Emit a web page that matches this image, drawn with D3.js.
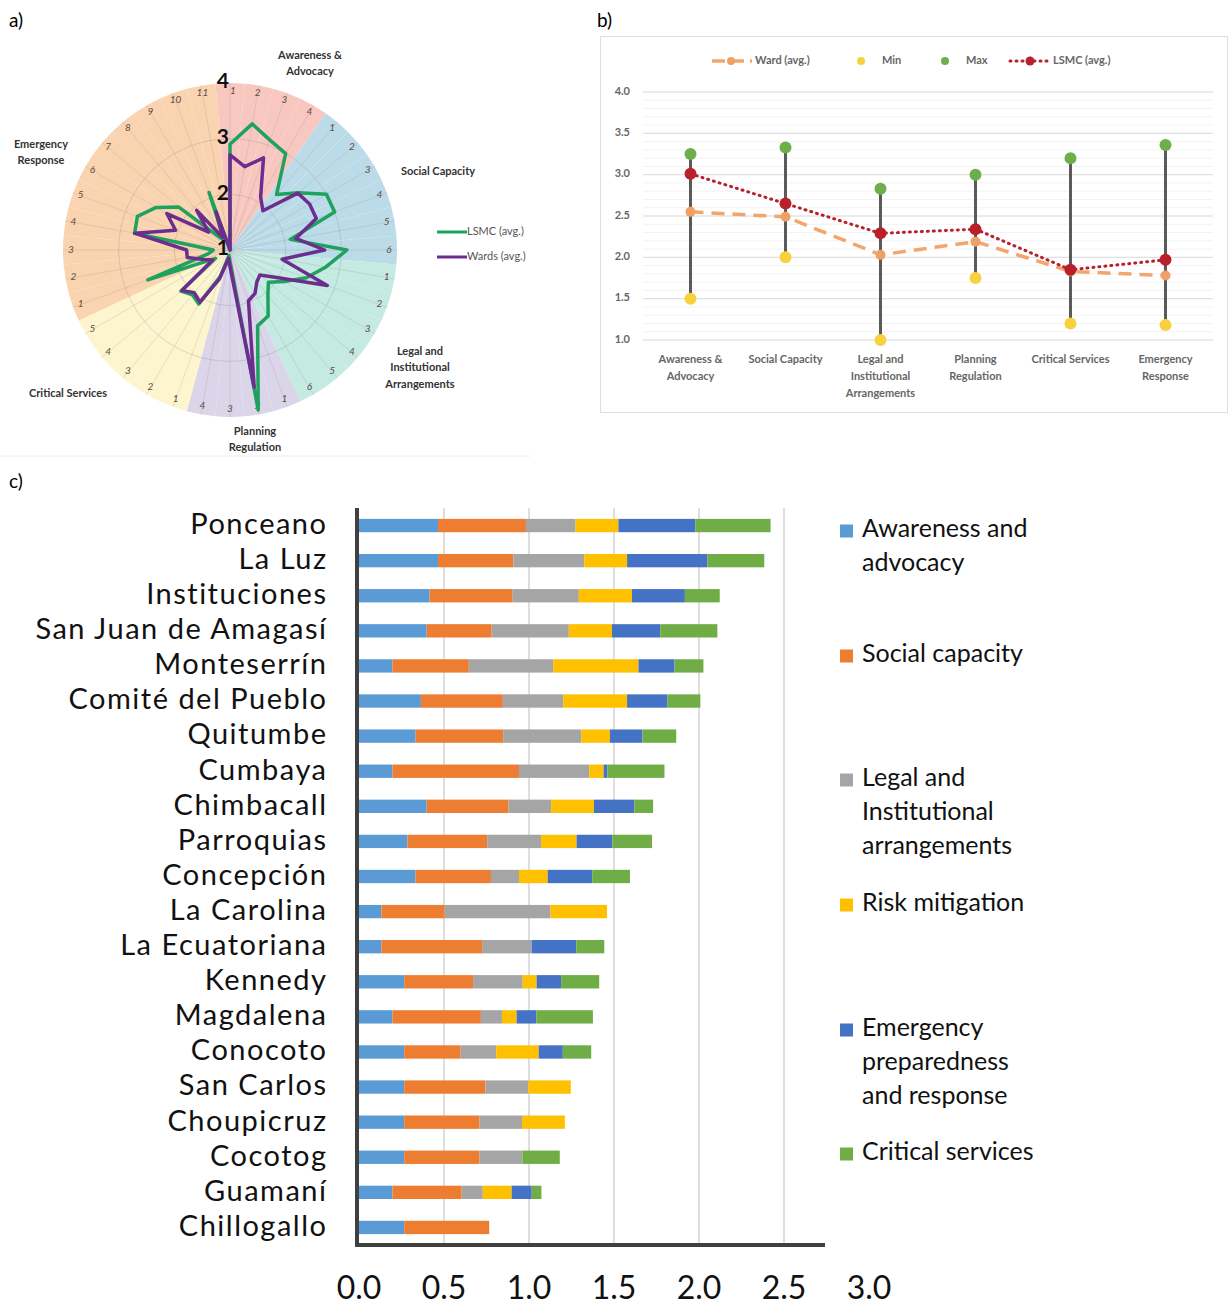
<!DOCTYPE html>
<html>
<head>
<meta charset="utf-8">
<script src="https://cdn.jsdelivr.net/npm/d3@7/dist/d3.min.js"></script>
<style>
  html, body { margin: 0; padding: 0; background: #fff; }
  svg { display: block; }
  text { font-family: Lato, "Open Sans", sans-serif; }
</style>
</head>
<body>
<svg id="fig" width="1229" height="1308"></svg>
<script>
// ---------- Panel a: radar of indicator scores ----------
const radarGroups = ["Awareness & Advocacy", "Social Capacity", "Legal and Institutional Arrangements",
                     "Planning Regulation", "Critical Services", "Emergency Response"];
const radarGroupSizes = [4, 6, 6, 4, 5, 11];
const radarGroupColors = ["#f8c8c0", "#bcdbe9", "#c5eae2", "#dbd5ea", "#fdf5cd", "#fad4b0"];
const radarTicks = [1, 2, 3, 4];
// 36 indicators, clockwise from the top
const lsmcAvg = [2.9, 3.3, 3.1, 3.0,
                 2.3, 2.6, 3.0, 3.0, 2.1, 3.1,
                 2.75, 2.46, 2.13, 1.9, 2.06, 2.37,
                 2.45, 3.92, 1.2, 1.1,
                 1.5, 2.12, 2.05, 2.15, 1.3,
                 2.57, 1.4, 1.3, 2.74, 2.77, 2.53, 2.2, 1.3, 1.2, 2.1, 1.0];
const wardsAvg = [2.71, 2.52, 2.76, 2.1,
                  1.92, 2.59, 2.65, 2.65, 2.2, 2.7,
                  1.95, 2.86, 2.0, 1.7, 1.75, 1.9,
                  1.97, 3.5, 1.3, 1.15,
                  1.55, 2.08, 2.0, 2.13, 1.36,
                  1.5, 1.78, 1.78, 2.74, 2.04, 2.31, 1.5, 1.93, 1.26, 1.73, 1.0];

// ---------- Panel b: summary by dimension ----------
const dimLabels = [["Awareness &", "Advocacy"], ["Social Capacity"], ["Legal and", "Institutional", "Arrangements"],
                   ["Planning", "Regulation"], ["Critical Services"], ["Emergency", "Response"]];
const wardAvg = [2.55, 2.49, 2.03, 2.19, 1.83, 1.78];
const dimMin  = [1.5, 2.0, 1.0, 1.75, 1.2, 1.18];
const dimMax  = [3.25, 3.33, 2.83, 3.0, 3.2, 3.36];
const lsmcDim = [3.01, 2.65, 2.29, 2.34, 1.85, 1.97];
const bTicks = [1.0, 1.5, 2.0, 2.5, 3.0, 3.5, 4.0];

// ---------- Panel c: stacked scores per ward ----------
const wards = ["Ponceano", "La Luz", "Instituciones", "San Juan de Amagasí", "Monteserrín", "Comité del Pueblo",
               "Quitumbe", "Cumbaya", "Chimbacall", "Parroquias", "Concepción", "La Carolina", "La Ecuatoriana",
               "Kennedy", "Magdalena", "Conocoto", "San Carlos", "Choupicruz", "Cocotog", "Guamaní", "Chillogallo"];
const awareness = [0.465, 0.465, 0.415, 0.398, 0.197, 0.364, 0.333, 0.197, 0.398, 0.285, 0.333, 0.132, 0.132, 0.266, 0.197, 0.266, 0.266, 0.266, 0.266, 0.197, 0.266];
const social    = [0.517, 0.444, 0.489, 0.382, 0.449, 0.482, 0.515, 0.744, 0.482, 0.469, 0.443, 0.372, 0.592, 0.405, 0.520, 0.332, 0.478, 0.443, 0.443, 0.407, 0.500];
const legal     = [0.292, 0.416, 0.389, 0.454, 0.496, 0.355, 0.459, 0.413, 0.250, 0.317, 0.165, 0.622, 0.292, 0.292, 0.124, 0.209, 0.252, 0.250, 0.252, 0.124, 0];
const risk      = [0.252, 0.252, 0.313, 0.254, 0.502, 0.376, 0.169, 0.085, 0.252, 0.209, 0.169, 0.333, 0, 0.082, 0.086, 0.250, 0.250, 0.252, 0, 0.170, 0];
const emergency = [0.452, 0.472, 0.311, 0.284, 0.212, 0.238, 0.191, 0.022, 0.238, 0.210, 0.262, 0, 0.262, 0.144, 0.116, 0.142, 0, 0, 0, 0.118, 0];
const critical  = [0.443, 0.335, 0.205, 0.336, 0.170, 0.193, 0.199, 0.336, 0.110, 0.234, 0.222, 0, 0.165, 0.224, 0.333, 0.167, 0, 0, 0.220, 0.057, 0];
const seriesNames = ["Awareness and advocacy", "Social capacity", "Legal and Institutional arrangements",
                     "Risk mitigation", "Emergency preparedness and response", "Critical services"];
const seriesLegendLines = [["Awareness and", "advocacy"], ["Social capacity"], ["Legal and", "Institutional", "arrangements"],
                           ["Risk mitigation"], ["Emergency", "preparedness", "and response"], ["Critical services"]];
const seriesColors = ["#5b9bd5", "#ed7d31", "#a5a5a5", "#ffc000", "#4472c4", "#70ad47"];
const xTicks = [0, 0.5, 1.0, 1.5, 2.0, 2.5, 3.0];

const svg = d3.select("#fig");

// panel letters
svg.append("text").attr("x", 9).attr("y", 27).attr("font-size", 19).text("a)");
svg.append("text").attr("x", 597).attr("y", 27).attr("font-size", 19).text("b)");
svg.append("text").attr("x", 9).attr("y", 488).attr("font-size", 19).text("c)");

// ================= Panel a =================
(function () {
  const cx = 230, cy = 250;
  const g = svg.append("g");
  const r = d3.scaleLinear().domain([1, 4]).range([0, 167]);
  const n = d3.sum(radarGroupSizes);
  const step = 2 * Math.PI / n;

  // indicator list with group membership
  const items = [];
  radarGroupSizes.forEach((k, gi) => { for (let i = 1; i <= k; i++) items.push({ group: gi, label: i }); });

  const arc = d3.arc().innerRadius(0).outerRadius(r(4));
  g.selectAll("path.wedge").data(items).join("path")
    .attr("class", "wedge")
    .attr("transform", `translate(${cx},${cy})`)
    .attr("d", (d, i) => arc({ startAngle: (i - 0.5) * step, endAngle: (i + 0.5) * step }))
    .attr("fill", d => radarGroupColors[d.group]);

  // spokes and rings
  g.selectAll("line.spoke").data(items).join("line")
    .attr("x1", cx).attr("y1", cy)
    .attr("x2", (d, i) => cx + r(4) * Math.sin(i * step))
    .attr("y2", (d, i) => cy - r(4) * Math.cos(i * step))
    .attr("stroke", "rgba(140,140,140,0.22)").attr("stroke-width", 1);
  g.selectAll("circle.ring").data([2, 3]).join("circle")
    .attr("cx", cx).attr("cy", cy).attr("r", d => r(d))
    .attr("fill", "none").attr("stroke", "rgba(140,140,140,0.3)").attr("stroke-width", 1);

  // indicator numbers
  g.selectAll("text.num").data(items).join("text")
    .attr("x", (d, i) => cx + 159 * Math.sin(i * step) + (i === 0 ? 3 : 0))
    .attr("y", (d, i) => cy - 159 * Math.cos(i * step))
    .attr("text-anchor", "middle").attr("dominant-baseline", "middle")
    .attr("font-size", 10).attr("font-style", "italic").attr("fill", "#5e4b3c")
    .text(d => d.label);

  const line = d3.lineRadial()
    .angle((d, i) => i * step)
    .radius(d => r(Math.max(1, d)))
    .curve(d3.curveLinearClosed);
  g.append("path").attr("transform", `translate(${cx},${cy})`)
    .attr("d", line(lsmcAvg)).attr("fill", "none")
    .attr("stroke", "#1fa25e").attr("stroke-width", 3.5).attr("stroke-linejoin", "round");
  g.append("path").attr("transform", `translate(${cx},${cy})`)
    .attr("d", line(wardsAvg)).attr("fill", "none")
    .attr("stroke", "#6c2e8e").attr("stroke-width", 3.5).attr("stroke-linejoin", "round");

  // value axis labels
  g.selectAll("text.tick").data(radarTicks).join("text")
    .attr("x", cx - 1).attr("y", d => cy - r(d))
    .attr("text-anchor", "end").attr("dominant-baseline", "middle")
    .attr("font-size", 21).attr("font-weight", 700).attr("fill", "#111")
    .text(d => d);

  // group labels
  const glab = [
    { lines: ["Awareness &", "Advocacy"], x: 310, y: 56 },
    { lines: ["Social Capacity"], x: 438, y: 172 },
    { lines: ["Legal and", "Institutional", "Arrangements"], x: 420, y: 352 },
    { lines: ["Planning", "Regulation"], x: 255, y: 432 },
    { lines: ["Critical Services"], x: 68, y: 394 },
    { lines: ["Emergency", "Response"], x: 41, y: 145 }
  ];
  glab.forEach(l => {
    const t = g.append("text").attr("text-anchor", "middle").attr("font-size", 11)
      .attr("font-weight", 700).attr("fill", "#333");
    l.lines.forEach((s, k) => t.append("tspan").attr("x", l.x).attr("y", l.y + k * 16.5)
      .attr("dominant-baseline", "middle").text(s));
  });

  // legend
  const leg = [{ name: "LSMC (avg.)", color: "#1fa25e", y: 232 }, { name: "Wards (avg.)", color: "#6c2e8e", y: 257 }];
  leg.forEach(l => {
    g.append("line").attr("x1", 437).attr("x2", 467).attr("y1", l.y).attr("y2", l.y)
      .attr("stroke", l.color).attr("stroke-width", 3);
    g.append("text").attr("x", 467).attr("y", l.y).attr("dominant-baseline", "middle")
      .attr("font-size", 11).attr("fill", "#555").text(l.name);
  });
  g.append("line").attr("x1", 0).attr("x2", 530).attr("y1", 456).attr("y2", 456)
    .attr("stroke", "#ececec").attr("stroke-width", 1);
})();

// ================= Panel b =================
(function () {
  const g = svg.append("g");
  g.append("rect").attr("x", 600.5).attr("y", 36.5).attr("width", 627).attr("height", 376)
    .attr("fill", "#fff").attr("stroke", "#dedede");
  const x = d3.scaleBand().domain(d3.range(dimLabels.length)).range([643, 1213]);
  const y = d3.scaleLinear().domain([1, 4]).range([340, 92]);

  g.selectAll("line.minor").data(d3.range(10, 41).map(v => v / 10)).join("line")
    .attr("x1", 643).attr("x2", 1213).attr("y1", d => y(d)).attr("y2", d => y(d))
    .attr("stroke", "#f3f3f3").attr("stroke-width", 1);
  g.selectAll("line.major").data(bTicks).join("line")
    .attr("x1", 643).attr("x2", 1213).attr("y1", d => y(d)).attr("y2", d => y(d))
    .attr("stroke", "#dcdcdc").attr("stroke-width", 1);
  g.selectAll("text.yt").data(bTicks).join("text")
    .attr("x", 630).attr("y", d => y(d)).attr("text-anchor", "end").attr("dominant-baseline", "middle")
    .attr("font-size", 11).attr("font-weight", 700).attr("fill", "#666").text(d => d.toFixed(1));

  const cxp = i => x(i) + x.bandwidth() / 2;
  g.selectAll("line.range").data(dimLabels).join("line")
    .attr("x1", (d, i) => cxp(i)).attr("x2", (d, i) => cxp(i))
    .attr("y1", (d, i) => y(dimMin[i])).attr("y2", (d, i) => y(dimMax[i]))
    .attr("stroke", "#5a5a5a").attr("stroke-width", 3);

  const ln = d3.line().x((d, i) => cxp(i)).y(d => y(d));
  g.append("path").attr("d", ln(wardAvg)).attr("fill", "none")
    .attr("stroke", "#f2a66c").attr("stroke-width", 3.5).attr("stroke-dasharray", "13,8");
  g.selectAll("circle.ward").data(wardAvg).join("circle")
    .attr("cx", (d, i) => cxp(i)).attr("cy", d => y(d)).attr("r", 5).attr("fill", "#eea067");
  g.append("path").attr("d", ln(lsmcDim)).attr("fill", "none")
    .attr("stroke", "#b9202a").attr("stroke-width", 3).attr("stroke-dasharray", "1,5")
    .attr("stroke-linecap", "round");
  g.selectAll("circle.min").data(dimMin).join("circle")
    .attr("cx", (d, i) => cxp(i)).attr("cy", d => y(d)).attr("r", 6).attr("fill", "#f7d23e");
  g.selectAll("circle.max").data(dimMax).join("circle")
    .attr("cx", (d, i) => cxp(i)).attr("cy", d => y(d)).attr("r", 6).attr("fill", "#6fae4c");
  g.selectAll("circle.lsmc").data(lsmcDim).join("circle")
    .attr("cx", (d, i) => cxp(i)).attr("cy", d => y(d)).attr("r", 6).attr("fill", "#b9202a");

  dimLabels.forEach((lines, i) => {
    const t = g.append("text").attr("text-anchor", "middle").attr("font-size", 11)
      .attr("font-weight", 700).attr("fill", "#666");
    lines.forEach((s, k) => t.append("tspan").attr("x", cxp(i)).attr("y", 360 + k * 17)
      .attr("dominant-baseline", "middle").text(s));
  });

  // legend
  const ly = 61;
  g.append("line").attr("x1", 712).attr("x2", 752).attr("y1", ly).attr("y2", ly)
    .attr("stroke", "#f2a66c").attr("stroke-width", 3.5).attr("stroke-dasharray", "13,6");
  g.append("circle").attr("cx", 731).attr("cy", ly).attr("r", 4).attr("fill", "#eea067");
  g.append("text").attr("x", 755).attr("y", ly).attr("dominant-baseline", "middle")
    .attr("font-size", 11).attr("font-weight", 700).attr("fill", "#666").text("Ward (avg.)");
  g.append("circle").attr("cx", 861).attr("cy", ly).attr("r", 4).attr("fill", "#f7d23e");
  g.append("text").attr("x", 882).attr("y", ly).attr("dominant-baseline", "middle")
    .attr("font-size", 11).attr("font-weight", 700).attr("fill", "#666").text("Min");
  g.append("circle").attr("cx", 945).attr("cy", ly).attr("r", 4).attr("fill", "#6fae4c");
  g.append("text").attr("x", 966).attr("y", ly).attr("dominant-baseline", "middle")
    .attr("font-size", 11).attr("font-weight", 700).attr("fill", "#666").text("Max");
  g.append("line").attr("x1", 1010).attr("x2", 1050).attr("y1", ly).attr("y2", ly)
    .attr("stroke", "#b9202a").attr("stroke-width", 3).attr("stroke-dasharray", "1,5")
    .attr("stroke-linecap", "round");
  g.append("circle").attr("cx", 1030).attr("cy", ly).attr("r", 4.5).attr("fill", "#b9202a");
  g.append("text").attr("x", 1053).attr("y", ly).attr("dominant-baseline", "middle")
    .attr("font-size", 11).attr("font-weight", 700).attr("fill", "#666").text("LSMC (avg.)");
})();

// ================= Panel c =================
(function () {
  const g = svg.append("g");
  const top = 508, bottom = 1245;
  const x = d3.scaleLinear().domain([0, 3]).range([359, 869]);
  const y = d3.scaleBand().domain(wards).range([top, bottom]).paddingInner(0.62).paddingOuter(0.31);

  g.selectAll("line.grid").data(xTicks.filter(v => v > 0 && x(v) < 826)).join("line")
    .attr("x1", d => x(d)).attr("x2", d => x(d)).attr("y1", top).attr("y2", bottom)
    .attr("stroke", "#d9d9d9").attr("stroke-width", 1.7);

  const table = wards.map((w, i) => ({
    ward: w, s0: awareness[i], s1: social[i], s2: legal[i], s3: risk[i], s4: emergency[i], s5: critical[i]
  }));
  const stack = d3.stack().keys(["s0", "s1", "s2", "s3", "s4", "s5"])(table);
  g.selectAll("g.series").data(stack).join("g")
    .attr("fill", (d, i) => seriesColors[i])
    .selectAll("rect").data(d => d).join("rect")
    .attr("x", d => x(d[0])).attr("width", d => x(d[1]) - x(d[0]))
    .attr("y", d => y(d.data.ward)).attr("height", y.bandwidth());

  // axes
  g.append("line").attr("x1", 357).attr("x2", 357).attr("y1", top).attr("y2", bottom + 2)
    .attr("stroke", "#404040").attr("stroke-width", 4);
  g.append("line").attr("x1", 355).attr("x2", 825).attr("y1", bottom).attr("y2", bottom)
    .attr("stroke", "#404040").attr("stroke-width", 4);

  g.selectAll("text.xt").data(xTicks).join("text")
    .attr("x", d => x(d)).attr("y", 1291).attr("text-anchor", "middle").attr("dominant-baseline", "middle")
    .attr("font-size", 32).attr("fill", "#111").text(d => d.toFixed(1));

  g.selectAll("text.cat").data(wards).join("text")
    .attr("x", 327.5).attr("y", d => y(d) + y.bandwidth() / 2 + 1)
    .attr("text-anchor", "end").attr("dominant-baseline", "middle")
    .attr("font-size", 29).attr("letter-spacing", 1.5).attr("fill", "#111").text(d => d);

  // legend
  const legY = [531, 656, 780, 905, 1030, 1154];
  seriesLegendLines.forEach((lines, i) => {
    g.append("rect").attr("x", 840).attr("y", legY[i] - 6.5).attr("width", 13).attr("height", 13)
      .attr("fill", seriesColors[i]);
    const t = g.append("text").attr("font-size", 25).attr("fill", "#111");
    lines.forEach((s, k) => t.append("tspan").attr("x", 862).attr("y", legY[i] + k * 34)
      .attr("dominant-baseline", "middle").text(s));
  });
})();
</script>
</body>
</html>
